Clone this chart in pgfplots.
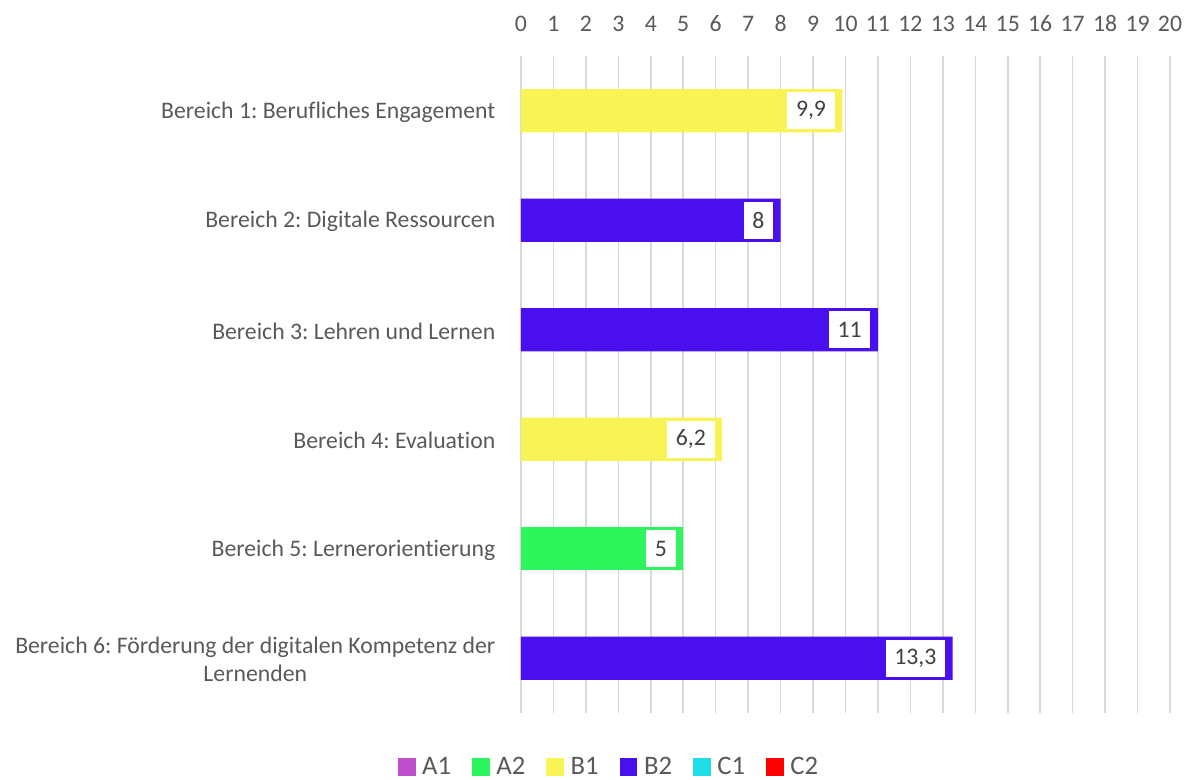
\documentclass[border=0pt]{standalone}
\usepackage{pgfplots}
\pgfplotsset{compat=1.18}
\usepackage{fontspec}
\setmainfont{Carlito}[Ligatures={NoCommon}]
\definecolor{cA1}{HTML}{BF4FCA}
\definecolor{cA2}{HTML}{2DF65D}
\definecolor{cB1}{HTML}{F9F455}
\definecolor{cB2}{HTML}{4A0FEF}
\definecolor{cC1}{HTML}{1FDEE8}
\definecolor{cC2}{HTML}{FF0000}
\definecolor{txt}{HTML}{595959}
\definecolor{lbl}{HTML}{404040}
\definecolor{grd}{HTML}{D9D9D9}
\frenchspacing
\begin{document}
\frenchspacing
\begin{tikzpicture}
\path[use as bounding box] (-390.75pt,-50.25pt) rectangle (499.5pt,534.75pt);
\begin{axis}[
  at={(0pt,0pt)}, anchor=south west,
  scale only axis,
  width=486.75pt, height=492.75pt,
  xbar, bar shift=0pt, bar width=0.394,
  xmin=0, xmax=20, xtick={0,1,...,20},
  ymin=0.5, ymax=6.5, y dir=reverse,
  ytick={1,2,3,4,5,6},
  yticklabels={Bereich 1: Berufliches Engagement, Bereich 2: Digitale Ressourcen, Bereich 3: Lehren und Lernen, Bereich 4: Evaluation, Bereich 5: Lernerorientierung, {Bereich 6: Förderung der digitalen Kompetenz der\\Lernenden}},
  xticklabel pos=upper,
  axis line style={draw=none},
  major tick style={draw=none},
  xmajorgrids, grid style={grd, line width=1.2pt},
  /pgf/number format/assume math mode=true,
  /pgf/number format/use comma,
  /pgf/number format/precision=1,
  tick label style={font=\fontsize{17.8}{21.3}\selectfont, text=txt},
  xticklabel style={yshift=14.5pt},
  yticklabel style={align=center, xshift=-11.5pt, yshift=-1pt},
  nodes near coords={\pgfmathprintnumber{\pgfplotspointmeta}},
  nodes near coords align={horizontal},
  every node near coord/.append style={anchor=east, xshift=-5.5pt, fill=white, text=lbl, font=\fontsize{17.8}{21.3}\selectfont, inner xsep=6.5pt, inner ysep=0pt, minimum height=27.75pt},
  point meta=x,
  legend columns=-1,
  legend style={at={(0.134,-0.0822)}, anchor=center, draw=none, fill=none, font=\fontsize{20}{24}\selectfont, text=txt,
    inner sep=0pt,
    nodes={inner sep=0pt},
    /tikz/every odd column/.append style={column sep=5.25pt},
    /tikz/every even column/.append style={column sep=15.75pt}},
]
\addlegendimage{legend image code/.code={\fill[cA1] (0pt,-6.3pt) rectangle (12.6pt,6.3pt);}}
\addlegendentry{A1}
\addlegendimage{legend image code/.code={\fill[cA2] (0pt,-6.3pt) rectangle (12.6pt,6.3pt);}}
\addlegendentry{A2}
\addlegendimage{legend image code/.code={\fill[cB1] (0pt,-6.3pt) rectangle (12.6pt,6.3pt);}}
\addlegendentry{B1}
\addlegendimage{legend image code/.code={\fill[cB2] (0pt,-6.3pt) rectangle (12.6pt,6.3pt);}}
\addlegendentry{B2}
\addlegendimage{legend image code/.code={\fill[cC1] (0pt,-6.3pt) rectangle (12.6pt,6.3pt);}}
\addlegendentry{C1}
\addlegendimage{legend image code/.code={\fill[cC2] (0pt,-6.3pt) rectangle (12.6pt,6.3pt);}}
\addlegendentry{C2}
\addplot[forget plot, fill=cB1, draw=none] coordinates {(9.9,1) (6.2,4)};
\addplot[forget plot, fill=cB2, draw=none] coordinates {(8,2) (11,3) (13.3,6)};
\addplot[forget plot, fill=cA2, draw=none] coordinates {(5,5)};
\end{axis}
\end{tikzpicture}
\end{document}
